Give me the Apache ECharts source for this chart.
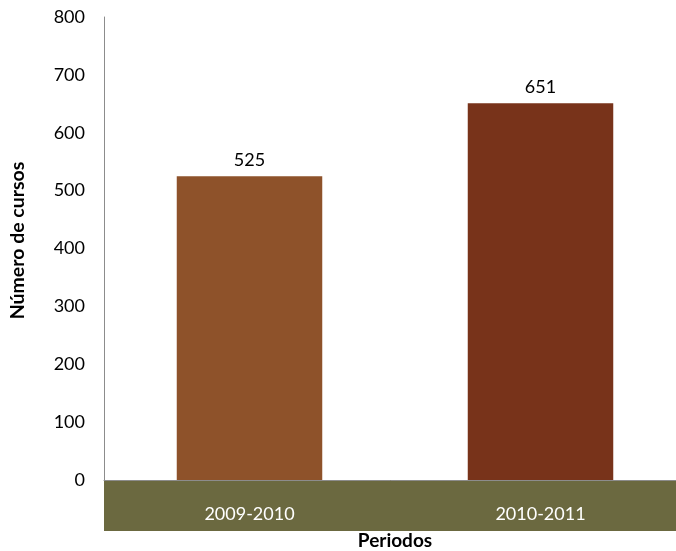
<!DOCTYPE html>
<html>
<head>
<meta charset="utf-8">
<script src="https://cdn.jsdelivr.net/npm/echarts@6/dist/echarts.min.js"></script>
<style>html,body{margin:0;padding:0;background:#fff}#c{width:676px;height:551px}</style>
</head>
<body>
<div id="c"></div>
<script>
const categories = ['2009-2010', '2010-2011'];
const values = [525, 651];
const barColors = ['#8E522A', '#78331A'];
const yTicks = [0, 100, 200, 300, 400, 500, 600, 700, 800];

const chart = echarts.init(document.getElementById('c'));
const FONT = 'Lato, "Open Sans", sans-serif';
chart.setOption({
  animation: false,
  textStyle: { fontFamily: FONT },
  grid: { left: 104, width: 582, top: 17, height: 463, containLabel: false, outerBoundsMode: 'none' },
  graphic: [{
    type: 'rect', z: 0, silent: true,
    shape: { x: 104, y: 480, width: 580, height: 51 },
    style: { fill: '#6B6940' }
  }],
  xAxis: {
    type: 'category', data: categories, z: 5,
    axisLine: { show: true, lineStyle: { color: '#8c8c8c', width: 1 } },
    axisTick: { show: false },
    axisLabel: { color: '#ffffff', fontSize: 18, fontFamily: FONT, margin: 25 },
    name: 'Periodos', nameLocation: 'middle', nameGap: 51,
    nameTextStyle: { color: '#000', fontWeight: 'bold', fontSize: 19, fontFamily: FONT }
  },
  yAxis: {
    type: 'value', min: yTicks[0], max: yTicks[yTicks.length - 1], interval: 100,
    axisLine: { show: true, lineStyle: { color: '#8c8c8c', width: 1 } },
    axisTick: { show: false },
    splitLine: { show: false },
    axisLabel: { color: '#000', fontSize: 18, fontFamily: FONT, margin: 19 },
    name: 'Número de cursos', nameLocation: 'middle', nameGap: 76,
    nameTextStyle: { color: '#000', fontWeight: 'bold', fontSize: 19.5, fontFamily: FONT, padding: [0, 0, 0, 16] }
  },
  series: [{
    type: 'bar', barWidth: '50%', z: 3,
    data: values.map((v, i) => ({ value: v, itemStyle: { color: barColors[i] } })),
    label: { show: true, position: 'top', color: '#000', fontSize: 18, fontFamily: FONT, distance: 7 }
  }]
});
</script>
</body>
</html>
